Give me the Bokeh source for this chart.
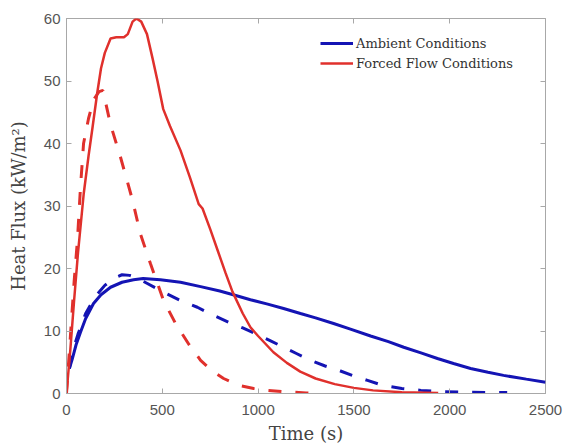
from bokeh.plotting import figure
from bokeh.models import LinearAxis, FixedTicker, Range1d, Legend, LegendItem
from bokeh.embed import file_html
from bokeh.resources import INLINE

# ---- data ----
t_forced = [0, 20, 40, 60, 90, 115, 136, 160, 180, 200, 230, 260, 300, 320, 345, 365, 390, 420, 450, 475, 505, 540, 595, 645, 690, 710, 750, 790, 830, 866, 920, 960, 1000, 1080, 1150, 1220, 1300, 1400, 1500, 1600, 1750, 1940]
q_forced = [0, 7, 15, 22.5, 32, 38, 42.6, 48, 52, 54.5, 56.8, 57, 57, 57.5, 59.5, 60, 59.5, 57.5, 53.5, 50, 45.5, 42.8, 38.9, 34.5, 30.3, 29.6, 26.3, 22.8, 19.3, 16.3, 12.8, 10.6, 9.2, 6.6, 4.9, 3.5, 2.4, 1.5, 0.9, 0.5, 0.2, 0.1]

t_forced_model = [0, 20, 40, 57, 73, 89, 115, 141, 170, 190, 230, 282, 344, 386, 438, 506, 569, 640, 700, 760, 820, 900, 977, 1050, 1150, 1250, 1320]
q_forced_model = [0, 9, 18, 24.5, 33, 40, 44, 47, 48.3, 48.5, 43, 37.8, 31, 25.5, 20.8, 14.9, 11.2, 7.8, 5.3, 3.6, 2.4, 1.3, 0.8, 0.5, 0.25, 0.1, 0.05]

t_ambient = [15, 30, 50, 73, 100, 141, 180, 230, 290, 350, 400, 490, 595, 700, 800, 870, 960, 1050, 1133, 1221, 1300, 1394, 1482, 1587, 1680, 1760, 1850, 1936, 2020, 2109, 2200, 2281, 2400, 2500]
q_ambient = [4.0, 5.5, 7.8, 9.8, 12.0, 14.4, 15.8, 17.0, 17.8, 18.2, 18.4, 18.2, 17.8, 17.1, 16.4, 15.8, 15.0, 14.3, 13.6, 12.8, 12.1, 11.2, 10.3, 9.2, 8.3, 7.4, 6.5, 5.6, 4.8, 4.0, 3.4, 2.9, 2.3, 1.8]

t_ambient_model = [15, 30, 60, 100, 150, 200, 250, 290, 330, 380, 422, 470, 527, 600, 683, 760, 846, 920, 986, 1060, 1133, 1200, 1273, 1350, 1430, 1500, 1571, 1650, 1750, 1850, 1968, 2100, 2300]
q_ambient_model = [4.0, 6.5, 9.5, 12.8, 15.5, 17.3, 18.5, 19.0, 18.9, 18.3, 17.6, 16.8, 15.9, 14.8, 13.8, 12.6, 11.4, 10.5, 9.6, 8.5, 7.4, 6.4, 5.3, 4.4, 3.6, 2.8, 2.1, 1.3, 0.8, 0.5, 0.3, 0.2, 0.15]

x_ticks = [0, 500, 1000, 1500, 2000, 2500]
y_ticks = [0, 10, 20, 30, 40, 50, 60]
legend_labels = ["Ambient Conditions", "Forced Flow Conditions"]

BLUE = "#1414b4"
RED = "#e0302c"
AX = "#a8a8a8"

p = figure(width=566, height=447, output_backend="svg", toolbar_location=None,
           x_range=Range1d(0, 2500), y_range=Range1d(0, 60),
           min_border_left=66, min_border_right=21, min_border_top=18, min_border_bottom=54,
           x_axis_label="Time (s)", y_axis_label="Heat Flux (kW/m²)")
p.grid.visible = False
p.outline_line_color = AX
p.outline_line_width = 1
p.background_fill_color = "white"
p.border_fill_color = "white"

for ax, ticks in ((p.xaxis[0], x_ticks), (p.yaxis[0], y_ticks)):
    ax.ticker = FixedTicker(ticks=ticks)
    ax.axis_line_color = AX
    ax.major_tick_line_color = AX
    ax.major_tick_in = 5
    ax.major_tick_out = 0
    ax.minor_tick_line_color = None
    ax.major_label_text_font = "Liberation Sans"
    ax.major_label_text_font_size = "15px"
    ax.major_label_text_color = "#555555"
    ax.axis_label_text_font = "DejaVu Serif"
    ax.axis_label_text_font_size = "18px"
    ax.axis_label_text_font_style = "normal"
    ax.axis_label_text_color = "#444444"

p.xaxis[0].major_label_standoff = 11
p.xaxis[0].axis_label_standoff = 5
p.yaxis[0].major_label_standoff = 6
p.yaxis[0].axis_label_standoff = 12

top = LinearAxis(ticker=FixedTicker(ticks=x_ticks), axis_line_color=None,
                 major_tick_line_color=AX, major_tick_in=5, major_tick_out=0,
                 minor_tick_line_color=None,
                 major_label_overrides={v: "" for v in x_ticks})
right = LinearAxis(ticker=FixedTicker(ticks=y_ticks), axis_line_color=None,
                   major_tick_line_color=AX, major_tick_in=5, major_tick_out=0,
                   minor_tick_line_color=None,
                   major_label_overrides={v: "" for v in y_ticks})
p.add_layout(top, "above")
p.add_layout(right, "right")

r_amb = p.line(t_ambient, q_ambient, line_color=BLUE, line_width=3)
p.line(t_ambient_model, q_ambient_model, line_color=BLUE, line_width=3, line_dash="13 14")
r_forced = p.line(t_forced, q_forced, line_color=RED, line_width=2.5)
p.line(t_forced_model, q_forced_model, line_color=RED, line_width=3, line_dash="13 14")

legend = Legend(items=[LegendItem(label=legend_labels[0], renderers=[r_amb]),
                       LegendItem(label=legend_labels[1], renderers=[r_forced])],
                location=(254, 320), border_line_color=None, background_fill_alpha=0,
                padding=5, spacing=0, glyph_width=33, glyph_height=20, label_height=20,
                label_standoff=3, label_text_font="DejaVu Serif", label_text_font_size="13px",
                label_text_color="#333333", margin=0)
p.add_layout(legend, "center")

open("out.html", "w").write(file_html(p, INLINE))
